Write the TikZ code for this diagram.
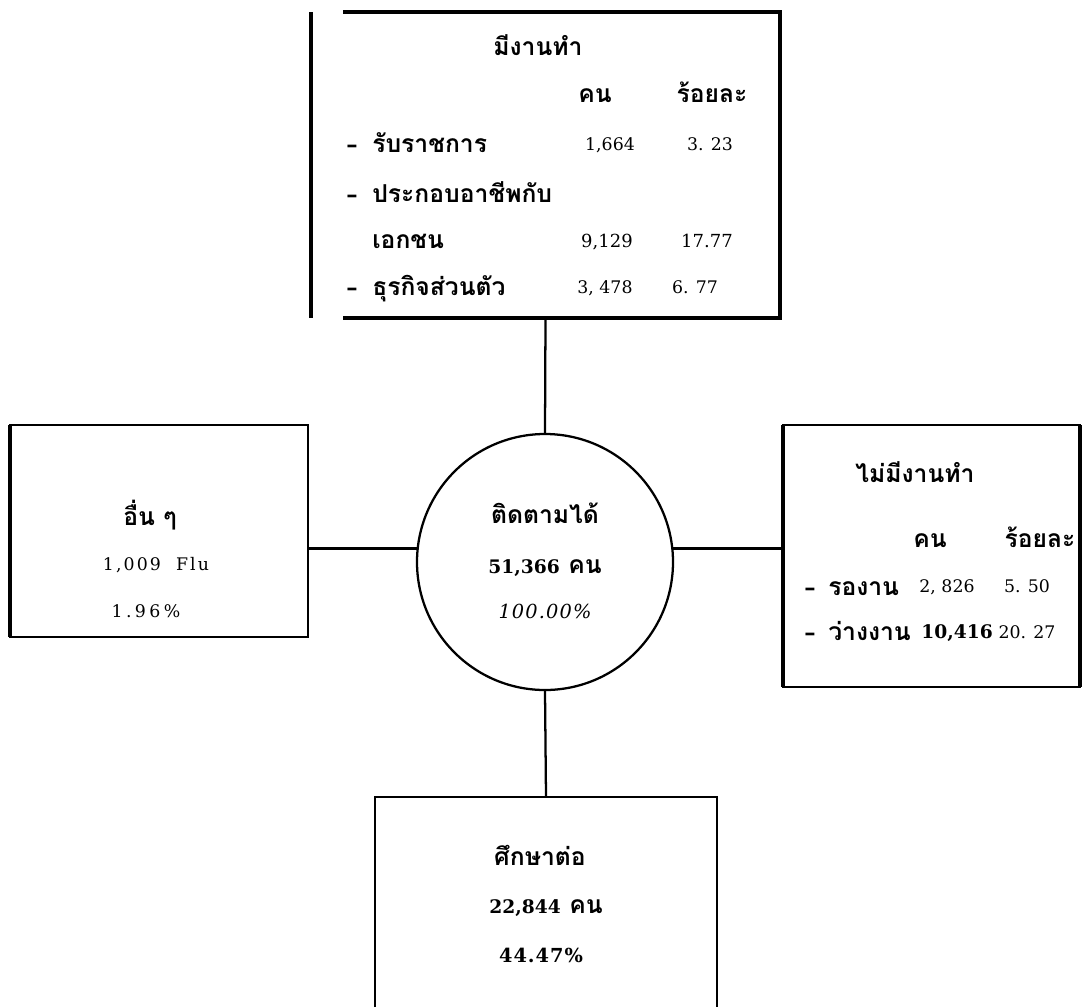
\documentclass[tikz,border=0pt]{standalone}
\usepackage{fontspec}
\setmainfont{DejaVu Serif}
\newfontfamily\thai[Script=Thai]{Loma}
\newfontfamily\spaced[LetterSpace=12]{DejaVu Serif}
\begin{document}
\begin{tikzpicture}[x=0.75pt,y=-0.75pt,
  edge/.style={line width=1.7pt},
  frame/.style={line width=2.6pt},
  thinframe/.style={line width=1.7pt},
  bar/.style={line width=3pt},
  boxnode/.style={draw=none,inner sep=0pt,outer sep=0pt},
  th/.style={font=\thai\bfseries\fontsize{18.5}{22}\selectfont,inner sep=0pt},
  dsh/.style={font=\bfseries\fontsize{17}{20}\selectfont,inner sep=0pt},
  nm/.style={font=\fontsize{13}{15}\selectfont,inner sep=0pt},
  nmw/.style={font=\fontsize{13.5}{15}\selectfont,inner sep=0pt},
  nmb/.style={font=\bfseries\fontsize{14}{16}\selectfont,inner sep=0pt},
  nms/.style={font=\spaced\fontsize{13}{15}\selectfont,inner sep=0pt},
  nmi/.style={font=\itshape\addfontfeature{LetterSpace=6}\fontsize{14.5}{16}\selectfont,inner sep=0pt}]
\useasboundingbox (0,0) rectangle (1085,1007);
\fill[white] (0,0) rectangle (1085,1007);

% boxes
\node[boxnode,minimum width=351.75pt,minimum height=229.5pt] (top) at (545.5,165) {};
\node[boxnode,minimum width=223.5pt,minimum height=159pt] (left) at (159,531) {};
\node[boxnode,minimum width=222.75pt,minimum height=196.5pt] (right) at (931.5,556) {};
\node[boxnode,minimum width=256.5pt,minimum height=157.5pt] (bot) at (546,902) {};
\node[circle,draw,line width=1.7pt,minimum size=192pt,inner sep=0pt] (circ) at (545,562) {};

\draw[frame] ([xshift=24pt]top.north west) -- (top.north east) -- (top.south east) -- ([xshift=24pt]top.south west);
\draw[bar] (top.north west) -- (top.south west);
\draw[thinframe,line width=2.2pt] (left.north west) rectangle (left.south east);
\draw[bar] (left.north west) -- (left.south west);
\draw[thinframe] (right.north west) rectangle (right.south east);
\draw[bar,line width=2.4pt] (right.north west) -- (right.south west);
\draw[bar] (right.north east) -- (right.south east);
\draw[thinframe] (bot.south west) -- (bot.north west) -- (bot.north east) -- (bot.south east);

% connectors
\draw[edge] (top.south) -- (circ.north);
\draw[edge] (circ.174) -- (circ.174 -| left.east);
\draw[edge] (circ.6) -- (circ.6 -| right.west);
\draw[edge] (circ.south) -- (bot.north);

% top box text
\node[th,anchor=base] (tA) at (538,55) {มีงานทำ};
\node[th,anchor=base] (tB) at (595,102) {คน};
\node[th,anchor=base] (tC) at (712,102) {ร้อยละ};
\node[dsh,anchor=base] (d1) at (352,152) {--};
\node[th,anchor=base west] (r1) at (372,152) {รับราชการ};
\node[nm,anchor=base] (r1a) at (610,150) {1,664};
\node[nm,anchor=base] (r1b) at (710,150) {3. 23};
\node[dsh,anchor=base] (d2) at (352,202) {--};
\node[th,anchor=base west] (r2) at (372,202) {ประกอบอาชีพกับ};
\node[th,anchor=base west] (r3) at (372,248) {เอกชน};
\node[nmw,anchor=base] (r3a) at (607,247) {9,129};
\node[nmw,anchor=base] (r3b) at (707,247) {17.77};
\node[dsh,anchor=base] (d4) at (352,295) {--};
\node[th,anchor=base west] (r4) at (372,295) {ธุรกิจส่วนตัว};
\node[nm,anchor=base] (r4a) at (605,293) {3, 478};
\node[nm,anchor=base] (r4b) at (695,293) {6. 77};

% left box text
\node[th,anchor=base] (lA) at (150,525) {อื่น ๆ};
\node[nms,anchor=base] (lB) at (156,570) {1,009\ \ Flu};
\node[nms,anchor=base,font=\addfontfeature{LetterSpace=20}\fontsize{13}{15}\selectfont] (lC) at (146,617) {1.96\%};

% right box text
\node[th,anchor=base] (gA) at (915,482) {ไม่มีงานทำ};
\node[th,anchor=base] (gB) at (930,547) {คน};
\node[th,anchor=base] (gC) at (1040,547) {ร้อยละ};
\node[dsh,anchor=base] (e1) at (810,595) {--};
\node[th,anchor=base west] (g1) at (828,595) {รองาน};
\node[nm,anchor=base] (g1a) at (947,592) {2, 826};
\node[nm,anchor=base] (g1b) at (1027,592) {5. 50};
\node[dsh,anchor=base] (e2) at (810,640) {--};
\node[th,anchor=base west] (g2) at (828,640) {ว่างงาน};
\node[nmb,anchor=base] (g2a) at (957,638) {10,416};
\node[nm,anchor=base] (g2b) at (1027,638) {20. 27};

% circle text
\node[th,anchor=base] (cA) at (545,523) {ติดตามได้};
\node[anchor=base,inner sep=0pt] (cB) at (545,573) {{\bfseries\fontsize{14}{16}\selectfont 51,366}\ \ {\thai\bfseries\fontsize{18.5}{22}\selectfont คน}};
\node[nmi,anchor=base] (cC) at (545,618) {100.00\%};

% bottom box text
\node[th,anchor=base] (bA) at (540,865) {ศึกษาต่อ};
\node[anchor=base,inner sep=0pt] (bB) at (546,913) {{\bfseries\fontsize{14}{16}\selectfont 22,844}\ \ {\thai\bfseries\fontsize{18.5}{22}\selectfont คน}};
\node[nmb,anchor=base,font=\bfseries\addfontfeature{LetterSpace=5}\fontsize{14.5}{16}\selectfont] (bC) at (541,962) {44.47\%};
\end{tikzpicture}
\end{document}
